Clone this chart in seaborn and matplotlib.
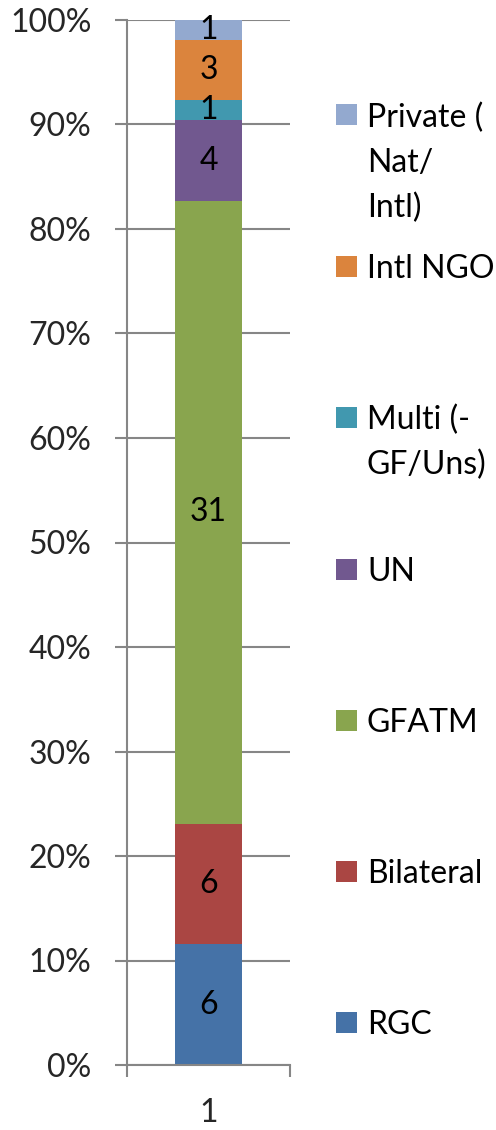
import numpy as np
import pandas as pd
import matplotlib
matplotlib.use("Agg")
import matplotlib.pyplot as plt
from matplotlib.patches import Rectangle
from matplotlib.ticker import FuncFormatter
import seaborn as sns

# ---- data ----
categories = ["1"]
series = ["RGC", "Bilateral", "GFATM", "UN", "Multi (-\nGF/Uns)", "Intl NGO", "Private (\nNat/\nIntl)"]
counts = [6, 6, 31, 4, 1, 3, 1]
colors = ["#4572A7", "#AA4643", "#89A54E", "#71588F", "#4198AF", "#DB843D", "#93A9CF"]
yticks = [0, 10, 20, 30, 40, 50, 60, 70, 80, 90, 100]

sns.set_theme(style="white")
plt.rcParams["font.family"] = ["Lato", "DejaVu Sans"]

W, H = 496, 1130
fig = plt.figure(figsize=(W / 100, H / 100), dpi=100)
ax = fig.add_axes([127 / W, 1 - 1065 / H, (290 - 127) / W, (1065 - 20) / H])

counts_arr = np.array(counts, dtype=float)
pct = counts_arr / counts_arr.sum() * 100
cum = np.cumsum(pct)

# draw cumulative bars from top to bottom so each layer shows its segment
for i in range(len(series) - 1, -1, -1):
    df = pd.DataFrame({"cat": categories, "val": [cum[i]]})
    sns.barplot(data=df, x="cat", y="val", color=colors[i], saturation=1,
                width=0.405, linewidth=0, ax=ax, zorder=3)

# data labels
fs = 23
for i in range(len(series)):
    ax.text(0, cum[i] - pct[i] / 2, str(counts[i]), ha="center", va="center",
            fontsize=fs, color="black", zorder=4)

grey = "#868686"
ax.set_xlim(-0.5, 0.5)
ax.set_ylim(0, 100)
ax.set_yticks(yticks)
ax.yaxis.set_major_formatter(FuncFormatter(lambda v, p: f"{int(v)}%"))
ax.set_xlabel("")
ax.set_ylabel("")
ax.yaxis.grid(True, color=grey, linewidth=1.5, zorder=0)
ax.xaxis.grid(False)
ax.set_axisbelow(True)
for s in ["top", "right"]:
    ax.spines[s].set_visible(False)
for s in ["left", "bottom"]:
    ax.spines[s].set_color(grey)
    ax.spines[s].set_linewidth(1.5)
    ax.spines[s].set_zorder(5)

ax.tick_params(axis="y", direction="out", length=8.6, width=1.5, color=grey,
               labelsize=fs, pad=17, left=True)
ax.set_xticks([0])
ax.set_xticklabels(categories)
ax.set_xticks([-0.5, 0.5], minor=True)
ax.tick_params(axis="x", which="major", length=0, labelsize=fs, pad=24)
ax.tick_params(axis="x", which="minor", direction="out", length=8.6, width=1.5,
               color=grey, bottom=True)

# legend (manual, Excel-style: marker aligned with first line)
leg_centers = [1022, 871, 720, 569, 417, 266, 115]
line_gap = 45
for i in range(len(series)):
    yc = leg_centers[i]
    fig.add_artist(Rectangle((336 / W, 1 - (yc + 10.5) / H), 21 / W, 21 / H,
                             transform=fig.transFigure, facecolor=colors[i],
                             edgecolor="none"))
    for j, line in enumerate(series[i].split("\n")):
        fig.text(367 / W, 1 - (yc + j * line_gap) / H, line, fontsize=fs,
                 ha="left", va="center_baseline", color="black")

fig.savefig("out.png", dpi=100)
